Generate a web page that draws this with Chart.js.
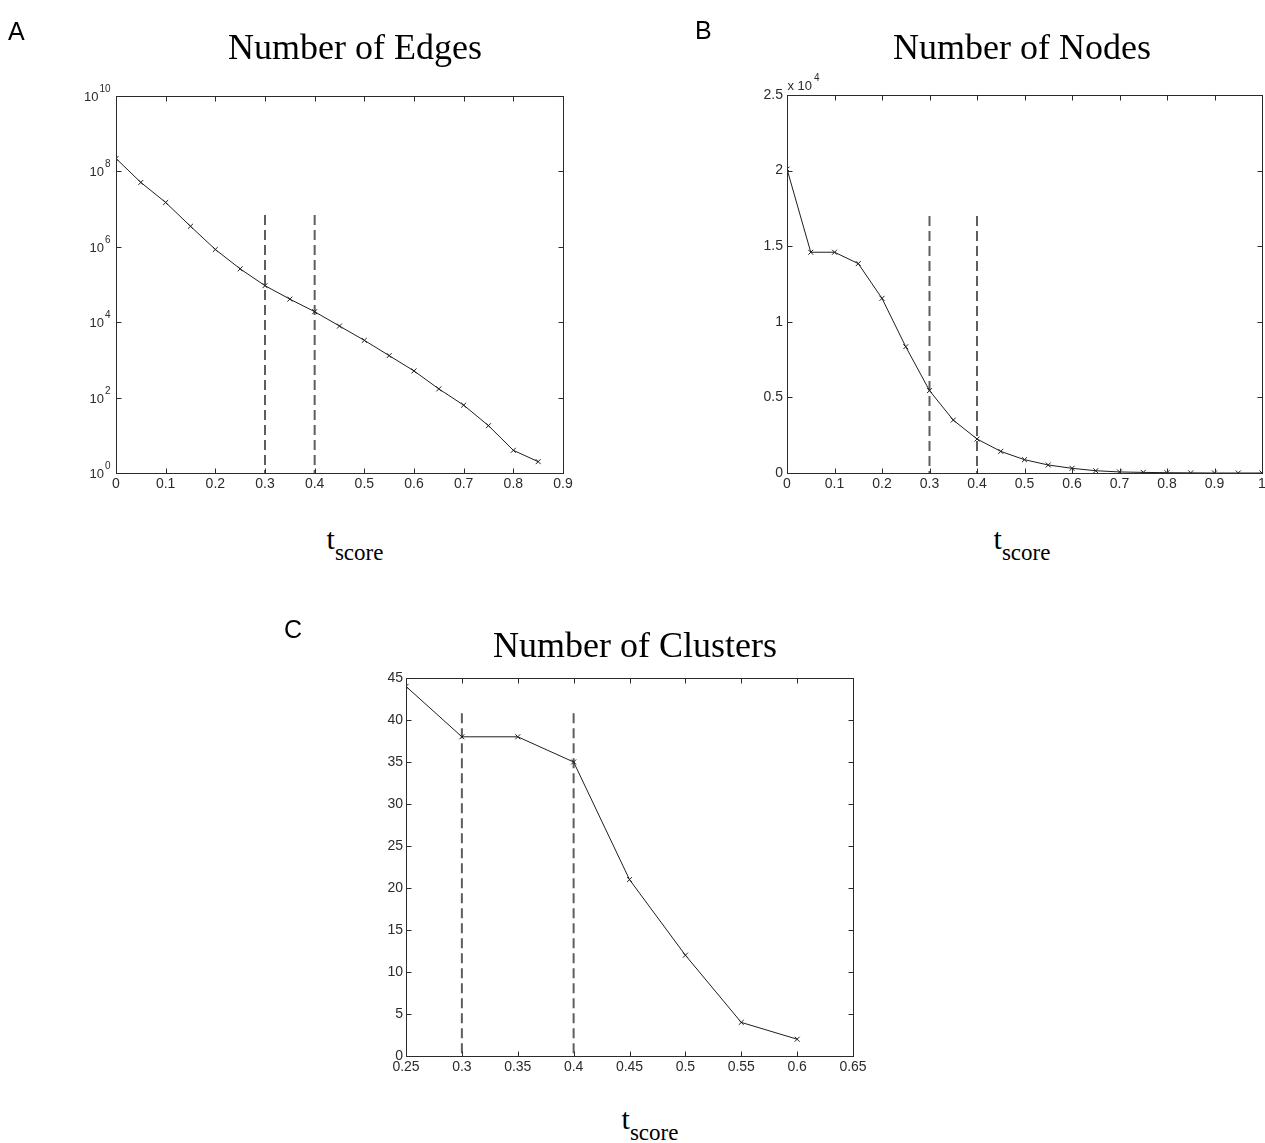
<!DOCTYPE html>
<html>
<head>
<meta charset="utf-8">
<title>Edges, nodes and clusters vs t_score</title>
<script src="https://cdn.jsdelivr.net/npm/chart.js@4.4.1/dist/chart.umd.min.js"></script>
<style>
html, body { margin: 0; padding: 0; background: #fff; overflow: hidden; width: 1265px; height: 1143px; }
canvas { position: absolute; }
.ttl { position: absolute; width: 600px; text-align: center; font: 36px/36px "Liberation Serif", "Times New Roman", serif; color: #000; white-space: nowrap; }
.lbl { position: absolute; font: 25px/25px "Liberation Sans", Arial, sans-serif; color: #000; }
.xl { position: absolute; width: 200px; text-align: center; font: 30px/30px "Liberation Serif", "Times New Roman", serif; color: #000; white-space: nowrap; }
.xl sub { font-size: 23px; vertical-align: -11px; line-height: 0; }
</style>
</head>
<body>
<canvas id="edges" width="640" height="510" style="left:0px;top:0px"></canvas>
<canvas id="nodes" width="575" height="510" style="left:700px;top:0px"></canvas>
<canvas id="clusters" width="600" height="500" style="left:300px;top:600px"></canvas>

<div class="lbl" style="left:8px;top:19px">A</div>
<div class="lbl" style="left:695px;top:18px">B</div>
<div class="lbl" style="left:284px;top:617px">C</div>

<div class="ttl" style="left:55px;top:29px">Number of Edges</div>
<div class="ttl" style="left:722px;top:29px">Number of Nodes</div>
<div class="ttl" style="left:335px;top:627px">Number of Clusters</div>

<div class="xl" style="left:255px;top:524px">t<sub>score</sub></div>
<div class="xl" style="left:922px;top:524px">t<sub>score</sub></div>
<div class="xl" style="left:550px;top:1104px">t<sub>score</sub></div>

<script>
// panel A: number of edges (log axis)
const tA = [0, 0.05, 0.1, 0.15, 0.2, 0.25, 0.3, 0.35, 0.4, 0.45, 0.5, 0.55, 0.6, 0.65, 0.7, 0.75, 0.8, 0.85];
const edges = [2.2e8, 5.1e7, 1.5e7, 3.5e6, 8.5e5, 2.6e5, 9.3e4, 4.1e4, 1.9e4, 7.9e3, 3.3e3, 1.3e3, 510, 170, 63, 18, 4, 2];
const edgeTicks = [1, 1e2, 1e4, 1e6, 1e8, 1e10];

// panel B: number of nodes
const tB = [0, 0.05, 0.1, 0.15, 0.2, 0.25, 0.3, 0.35, 0.4, 0.45, 0.5, 0.55, 0.6, 0.65, 0.7, 0.75, 0.8, 0.85, 0.9, 0.95, 1];
const nodes = [20100, 14600, 14600, 13850, 11550, 8350, 5450, 3500, 2250, 1430, 880, 530, 310, 150, 70, 40, 20, 10, 0, 0, 0];

// panel C: number of clusters
const tC = [0.25, 0.3, 0.35, 0.4, 0.45, 0.5, 0.55, 0.6];
const clusters = [44, 38, 38, 35, 21, 12, 4, 2];

// dashed cut-offs
const cutoffs = [0.3, 0.4];
const cutTopA = 7e6;
const cutTopB = 17000;
const cutTopC = 40.8;

const fmt = v => String(Math.round(v * 100) / 100);
const FONT = '"Liberation Sans", Arial, sans-serif';

Chart.defaults.font.family = FONT;
Chart.defaults.font.size = 14;
Chart.defaults.color = '#2b2b2b';

// "10" with a raised exponent, matlab style
function drawPow(ctx, base, exp, xRight, yBase) {
    ctx.font = '13px ' + FONT;
    const wb = ctx.measureText(base).width;
    ctx.font = '10px ' + FONT;
    const we = ctx.measureText(exp).width;
    ctx.textAlign = 'left';
    ctx.textBaseline = 'alphabetic';
    ctx.font = '13px ' + FONT;
    ctx.fillText(base, xRight - we - wb - 1, yBase);
    ctx.font = '10px ' + FONT;
    ctx.fillText(exp, xRight - we, yBase - 9);
}

// matlab style box with inward ticks on all four sides
const matlabFrame = {
    id: 'matlabFrame',
    afterDatasetsDraw(chart, args, opts) {
        const { ctx, chartArea: a, scales } = chart;
        const x = scales.x, y = scales.y;
        ctx.save();
        ctx.strokeStyle = '#2b2b2b';
        ctx.lineWidth = 1;
        const L = Math.round(a.left) + 0.5, R = Math.round(a.right) + 0.5;
        const T = Math.round(a.top) + 0.5, B = Math.round(a.bottom) + 0.5;
        ctx.strokeRect(L, T, R - L, B - T);
        ctx.beginPath();
        x.ticks.forEach(t => {
            const px = Math.round(x.getPixelForValue(t.value)) + 0.5;
            ctx.moveTo(px, B); ctx.lineTo(px, B - 5);
            ctx.moveTo(px, T); ctx.lineTo(px, T + 5);
        });
        y.ticks.forEach(t => {
            const py = Math.round(y.getPixelForValue(t.value)) + 0.5;
            ctx.moveTo(L, py); ctx.lineTo(L + 5, py);
            ctx.moveTo(R, py); ctx.lineTo(R - 5, py);
        });
        ctx.stroke();
        ctx.fillStyle = '#2b2b2b';
        if (opts.logLabels) {
            y.ticks.forEach(t => {
                const py = y.getPixelForValue(t.value);
                drawPow(ctx, '10', String(Math.round(Math.log10(t.value))), L - 6, py + 5);
            });
        }
        if (opts.note) {
            ctx.font = '13px ' + FONT;
            ctx.textAlign = 'left';
            ctx.textBaseline = 'alphabetic';
            ctx.fillText(opts.note[0], L, T - 6);
            const w = ctx.measureText(opts.note[0]).width;
            ctx.font = '10px ' + FONT;
            ctx.fillText(opts.note[1], L + w + 2, T - 15);
        }
        ctx.restore();
    }
};

function curve(xs, ys) {
    return {
        data: xs.map((x, i) => ({ x: x, y: ys[i] })),
        borderColor: '#1e1e1e',
        borderWidth: 1,
        pointStyle: 'crossRot',
        pointRadius: 3.5,
        pointBorderColor: '#1e1e1e',
        pointBorderWidth: 1,
        tension: 0
    };
}

function cut(x, lo, hi) {
    return {
        data: [{ x: x, y: hi }, { x: x, y: lo }],
        borderColor: '#5e5e5e',
        borderWidth: 2,
        borderDash: [10, 5],
        pointRadius: 0,
        tension: 0
    };
}

function axis(extra, size, isX) {
    const base = {
        grid: { display: false, drawTicks: false },
        border: { display: false },
        ticks: { padding: isX ? 3 : 5, maxRotation: 0, autoSkip: false },
        afterFit: s => { if (isX) s.height = size; else s.width = size; }
    };
    Object.keys(extra).forEach(k => {
        if (k === 'ticks') Object.assign(base.ticks, extra.ticks);
        else base[k] = extra[k];
    });
    return base;
}

function build(id, datasets, xAx, yAx, pad, frameOpts) {
    return new Chart(document.getElementById(id), {
        type: 'line',
        data: { datasets: datasets },
        options: {
            responsive: false,
            animation: false,
            devicePixelRatio: 1,
            layout: { padding: pad },
            plugins: { legend: { display: false }, tooltip: { enabled: false }, matlabFrame: frameOpts },
            scales: { x: xAx, y: yAx }
        },
        plugins: [matlabFrame]
    });
}

build('edges',
    [curve(tA, edges)].concat(cutoffs.map(c => cut(c, 1, cutTopA))),
    axis({ type: 'linear', min: 0, max: 0.9, ticks: { stepSize: 0.1, callback: v => fmt(v) } }, 30, true),
    axis({
        type: 'logarithmic', min: 1, max: 1e10,
        afterBuildTicks: s => { s.ticks = edgeTicks.map(v => ({ value: v, major: true })); },
        ticks: { callback: () => '' }
    }, 116, false),
    { left: 0, right: 77, top: 96, bottom: 7 }, { logLabels: true });

build('nodes',
    [curve(tB, nodes)].concat(cutoffs.map(c => cut(c, 0, cutTopB))),
    axis({ type: 'linear', min: 0, max: 1, ticks: { stepSize: 0.1, callback: v => fmt(v) } }, 30, true),
    axis({ type: 'linear', min: 0, max: 25000, ticks: { stepSize: 5000, padding: 4, callback: v => String(v / 1e4) } }, 87, false),
    { left: 0, right: 13, top: 95, bottom: 7 }, { note: ['x 10', '4'] });

build('clusters',
    [curve(tC, clusters)].concat(cutoffs.map(c => cut(c, 0, cutTopC))),
    axis({ type: 'linear', min: 0.25, max: 0.65, ticks: { stepSize: 0.05, callback: v => fmt(v) } }, 30, true),
    axis({ type: 'linear', min: 0, max: 45, ticks: { stepSize: 5, padding: 3 } }, 106, false),
    { left: 0, right: 47, top: 78, bottom: 14 }, {});
</script>
</body>
</html>
